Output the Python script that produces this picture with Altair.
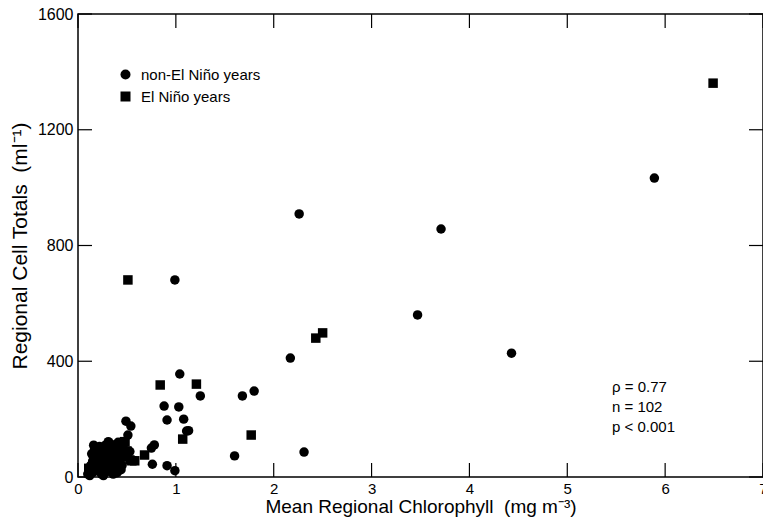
import altair as alt
import pandas as pd

# non-El Niño years (circles)
circ_x = [5.89, 2.26, 3.71, 0.99, 3.47, 4.43, 2.17, 1.04, 1.25, 1.68, 1.80, 0.88, 1.03, 0.91, 1.08,
          1.11, 1.13, 1.60, 2.31, 0.76, 0.91, 0.99, 0.78, 0.75, 0.49, 0.54, 0.51, 0.53, 0.31,
          0.10, 0.12, 0.13, 0.15, 0.15, 0.17, 0.18, 0.20, 0.20, 0.22, 0.23, 0.25, 0.25, 0.27, 0.28,
          0.30, 0.30, 0.32, 0.33, 0.35, 0.35, 0.37, 0.38, 0.40, 0.40, 0.42, 0.44, 0.45, 0.47, 0.12,
          0.14, 0.18, 0.22, 0.36, 0.26, 0.16, 0.41, 0.24, 0.44]
circ_y = [1033, 909, 857, 681, 560, 428, 411, 356, 280, 280, 297, 245, 242, 197, 200,
          159, 160, 73, 86, 44, 39, 22, 111, 100, 193, 176, 145, 88, 122,
          10, 25, 40, 55, 15, 70, 30, 50, 85, 20, 65, 95, 40, 75, 110,
          55, 25, 90, 115, 45, 70, 100, 30, 80, 15, 55, 95, 40, 70, 5,
          80, 100, 105, 10, 5, 110, 120, 10, 25]

# El Niño years (squares)
sq_x = [6.49, 0.51, 2.43, 2.50, 0.84, 1.21, 1.07, 1.77, 0.68, 0.58, 0.475, 0.53,
        0.11, 0.16, 0.19, 0.21, 0.24, 0.26, 0.29, 0.31, 0.34, 0.36, 0.39, 0.43, 0.28, 0.46,
        0.17, 0.32, 0.48, 0.55, 0.14, 0.27, 0.38, 0.50]
sq_y = [1361, 681, 480, 498, 318, 321, 131, 145, 76, 56, 122, 59,
        30, 45, 60, 35, 80, 55, 90, 70, 60, 85, 50, 65, 20, 110,
        90, 35, 122, 56, 20, 100, 105, 90]

x_ticks = [0, 1, 2, 3, 4, 5, 6, 7]
y_ticks = [0, 400, 800, 1200, 1600]
stats_lines = ["\u03c1 = 0.77", "n = 102", "p < 0.001"]

groups = ["non-El Niño years", "El Niño years"]
df = pd.DataFrame({
    "chl": circ_x + sq_x,
    "cells": circ_y + sq_y,
    "grp": [groups[0]] * len(circ_x) + [groups[1]] * len(sq_x),
})

W, H = 685, 463
FONT = "Liberation Sans"
xs = alt.Scale(domain=[0, 7], nice=False)
ys = alt.Scale(domain=[0, 1600], nice=False)
NB = "\u00a0"

points = alt.Chart(df).mark_point(filled=True, opacity=1, size=90, color="black").encode(
    x=alt.X("chl:Q", scale=xs,
            axis=alt.Axis(values=x_ticks, ticks=False, domain=False, grid=False,
                          labelFontSize=15, labelPadding=4, labelColor="black",
                          labelFont=FONT, format="d", labelFlush=False, labelOverlap=False,
                          title="Mean Regional Chlorophyll " + NB + "(mg m\u207b\u00b3)",
                          titleFontSize=19, titleFont=FONT, titleFontWeight="normal",
                          titleColor="black", titlePadding=1)),
    y=alt.Y("cells:Q", scale=ys,
            axis=alt.Axis(values=y_ticks, ticks=False, domain=False, grid=False,
                          labelFontSize=16, labelPadding=5, labelColor="black",
                          labelFont=FONT, format="d", labelFlush=False, labelOverlap=False,
                          title="Regional Cell Totals " + NB + "(ml\u207b\u00b9)",
                          titleFontSize=21, titleFont=FONT, titleFontWeight="normal",
                          titleColor="black", titlePadding=7)),
    shape=alt.Shape("grp:N", scale=alt.Scale(domain=groups, range=["circle", "square"]),
                    legend=alt.Legend(title=None)),
)

xt = pd.DataFrame({"v": x_ticks})
yt = pd.DataFrame({"v": y_ticks})
TL = 14
rule_style = dict(color="black", strokeWidth=1.2)
xb = alt.Chart(xt).mark_rule(**rule_style).encode(
    x=alt.X("v:Q", scale=xs, axis=None), y=alt.value(H), y2=alt.value(H - TL))
xtop = alt.Chart(xt).mark_rule(**rule_style).encode(
    x=alt.X("v:Q", scale=xs, axis=None), y=alt.value(0), y2=alt.value(TL))
yl = alt.Chart(yt).mark_rule(**rule_style).encode(
    y=alt.Y("v:Q", scale=ys, axis=None), x=alt.value(0), x2=alt.value(TL))
yr = alt.Chart(yt).mark_rule(**rule_style).encode(
    y=alt.Y("v:Q", scale=ys, axis=None), x=alt.value(W - TL), x2=alt.value(W))

stats = alt.Chart(pd.DataFrame({"t": ["\n".join(stats_lines)]})).mark_text(
    align="left", baseline="top", fontSize=15, font=FONT, color="black",
    lineBreak="\n", lineHeight=20
).encode(
    text="t:N",
    x=alt.value(534),
    y=alt.value(366),
)

chart = alt.layer(points, xb, xtop, yl, yr, stats).resolve_axis(
    x="independent", y="independent"
).properties(
    width=W, height=H,
    padding={"left": 70, "top": 6, "right": 0, "bottom": 40},
    autosize=alt.AutoSizeParams(type="none"),
).configure_view(stroke="black", strokeWidth=1.5).configure_legend(
    orient="none", legendX=40, legendY=53, labelFontSize=15, labelFont=FONT,
    labelColor="black", symbolSize=100, symbolFillColor="black", symbolStrokeColor="black",
    symbolStrokeWidth=0, rowPadding=6, labelOffset=8
)

chart.save("out.html", embed_options={"renderer": "svg", "actions": False})
